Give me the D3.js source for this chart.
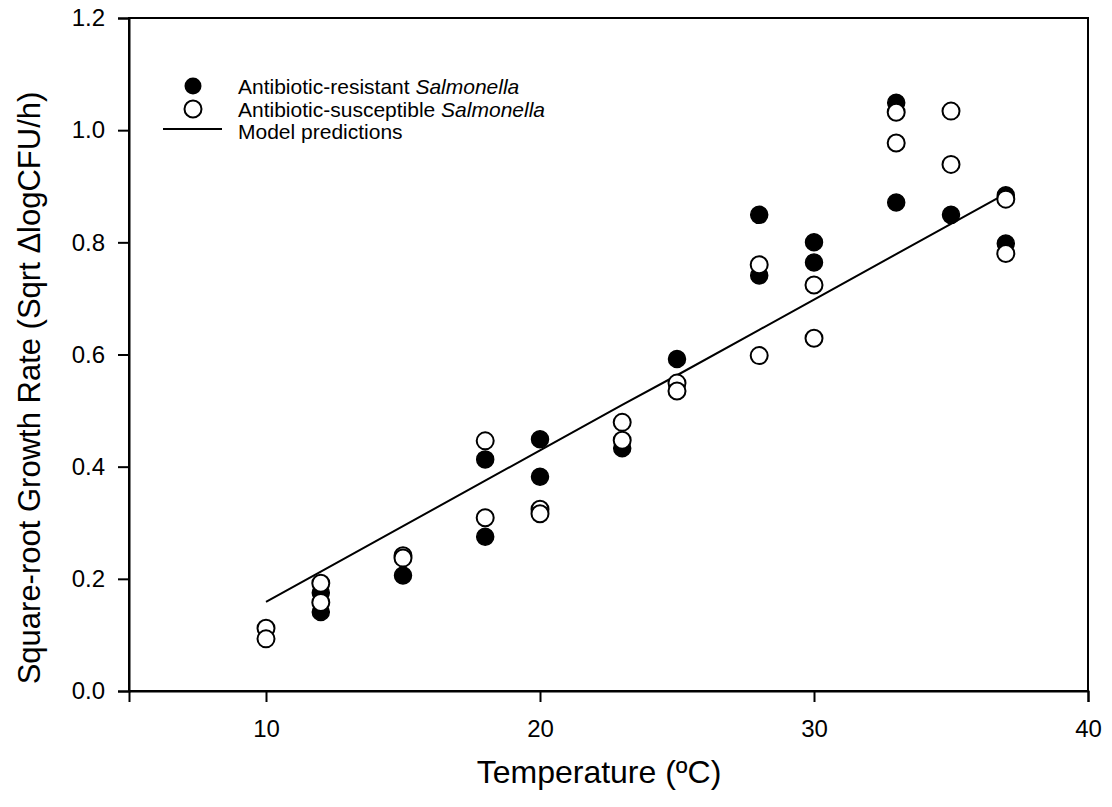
<!DOCTYPE html>
<html>
<head>
<meta charset="utf-8">
<script src="https://cdn.jsdelivr.net/npm/d3@7"></script>
<style>
  html, body { margin: 0; padding: 0; background: #fff; }
  svg { display: block; font-family: "Liberation Sans", Arial, sans-serif; }
</style>
</head>
<body>
<svg id="chart" width="1112" height="807"></svg>
<script>
// ---- data ----
const resistantTemp   = [12, 12, 15, 18, 18, 20, 20, 23, 25, 28, 28, 30, 30, 33, 33, 35, 37, 37];
const resistantValue  = [0.175, 0.141, 0.206, 0.413, 0.275, 0.449, 0.382, 0.433, 0.592, 0.849, 0.741, 0.800, 0.764, 1.049, 0.871, 0.849, 0.884, 0.798];
const susceptibleTemp  = [10, 10, 12, 12, 15, 15, 18, 18, 20, 20, 23, 23, 25, 25, 28, 28, 30, 30, 33, 33, 35, 35, 37, 37];
const susceptibleValue = [0.112, 0.093, 0.192, 0.158, 0.241, 0.237, 0.446, 0.309, 0.324, 0.316, 0.479, 0.447, 0.549, 0.535, 0.760, 0.598, 0.724, 0.629, 1.032, 0.977, 1.034, 0.939, 0.877, 0.780];
const modelTemp  = [10, 12, 15, 18, 20, 23, 25, 28, 30, 33, 35, 37];
const modelValue = [0.159, 0.213, 0.294, 0.375, 0.429, 0.510, 0.563, 0.644, 0.698, 0.779, 0.833, 0.887];
const xTicks = [10, 20, 30, 40];
const yTicks = [0, 0.2, 0.4, 0.6, 0.8, 1.0, 1.2];
const legendLabels = ["Antibiotic-resistant ", "Antibiotic-susceptible ", "Model predictions"];

// ---- layout ----
const svg = d3.select("#chart");
const L = 129, R = 1088, T = 18, B = 691;
const x = d3.scaleLinear().domain([5, 40]).range([L, R]);
const y = d3.scaleLinear().domain([0, 1.2]).range([B, T]);
const rPt = 8.5;

// frame
svg.append("rect").attr("x", L).attr("y", T).attr("width", R - L).attr("height", B - T)
  .attr("fill", "none").attr("stroke", "#000").attr("stroke-width", 2);

// axes
const xAxis = svg.append("g").attr("transform", `translate(0,${B})`)
  .call(d3.axisBottom(x).tickValues(xTicks).tickFormat(d3.format("d")).tickSize(11).tickPadding(18));
const yAxis = svg.append("g").attr("transform", `translate(${L},0)`)
  .call(d3.axisLeft(y).tickValues(yTicks).tickFormat(d3.format(".1f")).tickSize(11).tickPadding(13));
[xAxis, yAxis].forEach(g => {
  g.select(".domain").attr("stroke", "#000").attr("stroke-width", 2);
  g.selectAll(".tick line").attr("stroke", "#000").attr("stroke-width", 2);
  g.selectAll(".tick text").attr("fill", "#000").style("font-size", "24px")
    .style("font-family", '"Liberation Sans", Arial, sans-serif');
});

// model line
const line = d3.line().x(d => x(d[0])).y(d => y(d[1]));
svg.append("path").datum(modelTemp.map((t, i) => [t, modelValue[i]]))
  .attr("d", line).attr("fill", "none").attr("stroke", "#000").attr("stroke-width", 2);

// resistant (filled)
svg.append("g").selectAll("circle").data(resistantTemp.map((t, i) => [t, resistantValue[i]]))
  .join("circle").attr("cx", d => x(d[0])).attr("cy", d => y(d[1])).attr("r", rPt)
  .attr("fill", "#000").attr("stroke", "#000").attr("stroke-width", 1.5);

// susceptible (open)
svg.append("g").selectAll("circle").data(susceptibleTemp.map((t, i) => [t, susceptibleValue[i]]))
  .join("circle").attr("cx", d => x(d[0])).attr("cy", d => y(d[1])).attr("r", rPt)
  .attr("fill", "#fff").attr("stroke", "#000").attr("stroke-width", 2);

// axis titles
svg.append("text").attr("x", 599).attr("y", 783).attr("text-anchor", "middle")
  .style("font-size", "32px").text("Temperature (ºC)");
svg.append("text").attr("transform", `translate(40,388) rotate(-90)`)
  .attr("text-anchor", "middle").style("font-size", "31px")
  .text("Square-root Growth Rate (Sqrt ΔlogCFU/h)");

// legend
const lg = svg.append("g");
const rowY = [86, 109, 131];
lg.append("circle").attr("cx", 193).attr("cy", rowY[0]).attr("r", rPt).attr("fill", "#000");
lg.append("circle").attr("cx", 193).attr("cy", rowY[1]).attr("r", rPt).attr("fill", "#fff")
  .attr("stroke", "#000").attr("stroke-width", 2);
lg.append("line").attr("x1", 163).attr("x2", 222).attr("y1", rowY[2] - 2).attr("y2", rowY[2] - 2)
  .attr("stroke", "#000").attr("stroke-width", 2);
legendLabels.forEach((lab, i) => {
  const t = lg.append("text").attr("x", 238).attr("y", rowY[i] + 7.5).style("font-size", "21px");
  t.append("tspan").text(lab);
  if (i < 2) t.append("tspan").style("font-style", "italic").text("Salmonella");
});
</script>
</body>
</html>
